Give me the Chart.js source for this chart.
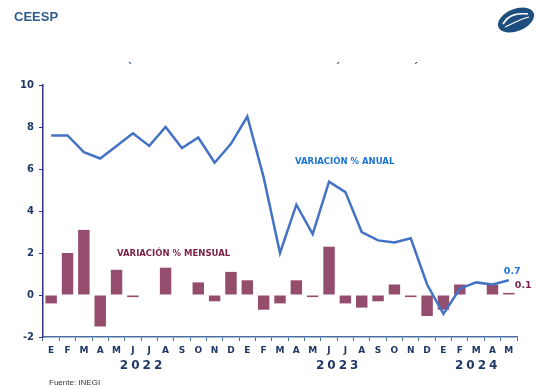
<!DOCTYPE html>
<html>
<head>
<meta charset="utf-8">
<script src="https://cdn.jsdelivr.net/npm/chart.js@4"></script>
<style>
  body { margin: 0; background: #fff; }
  #wrap { position: relative; width: 540px; height: 389px; }
  #chart { position: absolute; left: 0; top: 0; }
  .brand { position: absolute; left: 14px; top: 9px; font: bold 13px "Liberation Sans", Arial, sans-serif; color: #2E5C8A; }
  .frag { position: absolute; top: 62px; font: bold 10px "DejaVu Sans", sans-serif; color: #1F3864; }
  .logo { position: absolute; left: 494px; top: 5px; }
</style>
</head>
<body>
<div id="wrap">
  <canvas id="chart" width="540" height="389"></canvas>
  <div class="brand">CEESP</div>
  <div class="frag" style="left:128px">ˋ</div>
  <div class="frag" style="left:335px">ˊ</div>
  <div class="frag" style="left:413px">ˊ</div>
  <svg class="logo" width="44" height="30" viewBox="0 0 44 30">
    <ellipse cx="22" cy="15" rx="19" ry="11" transform="rotate(-22 22 15)" fill="#1D4E7D"/>
    <path d="M9 19 C15 9, 24 8, 34 9" stroke="#fff" stroke-width="1.6" fill="none"/>
    <path d="M11 22 C20 18, 26 14, 35 12" stroke="#fff" stroke-width="1.2" fill="none"/>
  </svg>
</div>
<script>
const months = ["E", "F", "M", "A", "M", "J", "J", "A", "S", "O", "N", "D",
                "E", "F", "M", "A", "M", "J", "J", "A", "S", "O", "N", "D",
                "E", "F", "M", "A", "M"];
const years = [
  { label: "2022", from: 0, to: 11 },
  { label: "2023", from: 12, to: 23 },
  { label: "2024", from: 24, to: 28 },
];
const anual = [7.6, 7.6, 6.8, 6.5, 7.1, 7.7, 7.1, 8.0, 7.0, 7.5, 6.3, 7.2,
               8.5, 5.6, 2.0, 4.3, 2.9, 5.4, 4.9, 3.0, 2.6, 2.5, 2.7, 0.5,
               -0.9, 0.3, 0.6, 0.5, 0.7];
const mensual = [-0.4, 2.0, 3.1, -1.5, 1.2, -0.1, 0, 1.3, 0, 0.6, -0.3, 1.1,
                 0.7, -0.7, -0.4, 0.7, -0.1, 2.3, -0.4, -0.6, -0.3, 0.5, -0.1, -1.0,
                 -0.7, 0.5, 0, 0.5, 0.1];
const yTicks = [-2, 0, 2, 4, 6, 8, 10];

const navy = "#1F3864";
const lineColor = "#4472C4";
const barColor = "#944D6D";

const labelsPlugin = {
  id: "labels",
  afterDraw(chart) {
    const ctx = chart.ctx;
    const x = chart.scales.x;
    const y = chart.scales.y;
    const last = months.length - 1;
    ctx.save();
    ctx.textBaseline = "middle";

    // series names
    ctx.font = "bold 8.5px 'DejaVu Sans', Verdana, sans-serif";
    ctx.textAlign = "left";
    ctx.fillStyle = "#1B73D3";
    ctx.fillText("VARIACIÓN % ANUAL", 295, 162);
    ctx.fillStyle = "#7B1F47";
    ctx.fillText("VARIACIÓN % MENSUAL", 117, 254);

    // last values
    ctx.font = "bold 9.5px 'DejaVu Sans', Verdana, sans-serif";
    ctx.fillStyle = "#1B73D3";
    ctx.fillText(anual[last].toFixed(1), x.getPixelForValue(last) - 5, y.getPixelForValue(anual[last]) - 9);
    ctx.fillStyle = "#7B1F47";
    ctx.fillText(mensual[last].toFixed(1), x.getPixelForValue(last) + 6, y.getPixelForValue(mensual[last]) - 7);

    // year labels
    ctx.font = "bold 12px 'DejaVu Sans', Verdana, sans-serif";
    ctx.fillStyle = navy;
    const spacing = 3;
    years.forEach((yr) => {
      const cx = (x.getPixelForValue(yr.from) + x.getPixelForValue(yr.to)) / 2;
      const chars = yr.label.split("");
      const widths = chars.map((c) => ctx.measureText(c).width);
      const total = widths.reduce((a, b) => a + b, 0) + spacing * (chars.length - 1);
      let px = cx - total / 2;
      chars.forEach((c, i) => {
        ctx.fillText(c, px, 366);
        px += widths[i] + spacing;
      });
    });

    // source
    ctx.font = "8px 'Liberation Sans', Arial, sans-serif";
    ctx.fillStyle = "#333";
    ctx.fillText("Fuente: INEGI", 49, 383);
    ctx.restore();
  },
};

new Chart(document.getElementById("chart"), {
  data: {
    labels: months,
    datasets: [
      {
        type: "line",
        label: "Variación % anual",
        data: anual,
        borderColor: lineColor,
        borderWidth: 2.5,
        pointRadius: 0,
        tension: 0,
        order: 0,
      },
      {
        type: "bar",
        label: "Variación % mensual",
        data: mensual,
        backgroundColor: barColor,
        barPercentage: 0.7,
        categoryPercentage: 1,
        order: 1,
      },
    ],
  },
  options: {
    responsive: false,
    animation: false,
    layout: { padding: { top: 85, right: 23, left: 0, bottom: 0 } },
    plugins: {
      legend: { display: false },
      tooltip: { enabled: false },
    },
    scales: {
      x: {
        offset: true,
        afterFit: (s) => { s.height = 52; },
        grid: {
          offset: true,
          drawOnChartArea: false,
          tickLength: 4,
          color: "#4A6FA5",
        },
        border: { color: "#4A6FA5", width: 1.5 },
        ticks: {
          autoSkip: false,
          maxRotation: 0,
          padding: 4,
          color: navy,
          font: { size: 9, weight: "bold", family: "'DejaVu Sans', Verdana, sans-serif" },
        },
      },
      y: {
        min: -2,
        max: 10,
        afterFit: (s) => { s.width = 43; },
        afterBuildTicks: (s) => { s.ticks = yTicks.map((v) => ({ value: v })); },
        grid: {
          drawOnChartArea: false,
          tickLength: 4,
          color: "#2E3192",
        },
        border: { color: "#2E3192", width: 1.5 },
        ticks: {
          padding: 5,
          color: navy,
          font: { size: 10, weight: "bold", family: "'DejaVu Sans', Verdana, sans-serif" },
        },
      },
    },
  },
  plugins: [labelsPlugin],
});
</script>
</body>
</html>
